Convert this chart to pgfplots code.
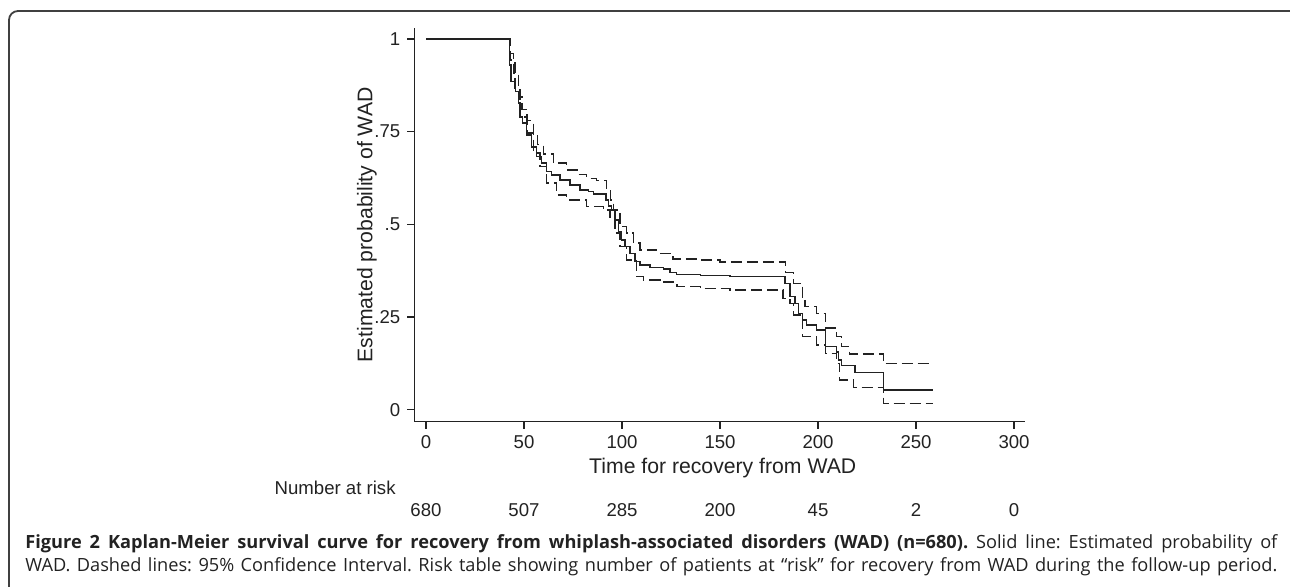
\documentclass[border=0pt]{standalone}
\usepackage{fontspec}
\setmainfont{Liberation Sans}
\newfontfamily\capfont{Open Sans}
\usepackage{pgfplots}
\pgfplotsset{compat=1.18}
\definecolor{ink}{HTML}{222222}

\begin{document}
\frenchspacing
\begin{tikzpicture}[x=0.5pt,y=0.5pt]
\path[use as bounding box] (0,0) rectangle (1290,587);
\draw[line width=0.9pt, black!75, rounded corners=4.5pt] (9,576) rectangle (1300,-30);
\begin{axis}[
  at={(207.15pt,82.65pt)}, anchor=south west,
  scale only axis, width=305.35pt, height=196.85pt,
  xmin=-5.97, xmax=305.6, ymin=-0.0324, ymax=1.0297,
  axis lines*=left,
  axis line style={ink, line width=0.6pt},
  tick align=outside, major tick length=3.5pt,
  tick style={ink, line width=0.6pt},
  xtick={0,50,...,300},
  ytick={0,0.25,0.5,0.75,1},
  yticklabels={0,.25,.5,.75,1},
  /pgf/number format/assume math mode=true,
  ticklabel style={font=\fontsize{9.3}{10}\selectfont, text=ink},
  xlabel={Time for recovery from WAD},
  ylabel={Estimated probability of WAD},
  label style={font=\fontsize{10.6}{12}\selectfont, text=ink},
  xlabel style={at={(axis description cs:0.505,-0.118)}, anchor=center},
  ylabel style={at={(axis description cs:-0.0775,0.5)}, anchor=center, rotate=0},
  clip=false,
]
\addplot[const plot, ink, line width=0.7pt] table {
t s
0 1
42.6 0.93
43.4 0.885
45.6 0.858
47.1 0.827
48 0.79
49.3 0.773
51.4 0.741
53.9 0.709
56.5 0.683
59 0.665
61.6 0.642
64.1 0.633
68.4 0.62
73.5 0.606
78.6 0.593
82.8 0.588
85.4 0.582
91.8 0.566
93 0.55
94.7 0.539
96.4 0.512
98.1 0.48
99.8 0.458
101.5 0.44
104.1 0.422
106.6 0.4
109.2 0.39
114.3 0.384
121.1 0.379
124.5 0.37
127.9 0.365
140 0.362
155 0.36
183.2 0.341
185.7 0.305
188.3 0.287
190 0.26
192.2 0.242
194.2 0.228
199.3 0.215
203.9 0.17
209.5 0.156
210.4 0.134
212.1 0.12
218.9 0.10
233.3 0.053
258.8 0.053
};
\addplot[const plot, ink, line width=0.75pt, dash pattern=on 5.5pt off 2.5pt] table {
t s
0 1
42.9 0.961
44.6 0.907
47.1 0.844
49 0.81
51.4 0.78
54.8 0.741
57 0.715
59.9 0.69
65 0.665
71.8 0.647
77 0.635
82 0.624
87 0.618
92.2 0.59
94 0.565
95.6 0.539
99 0.494
102.4 0.476
105.8 0.45
109.2 0.431
117.7 0.422
126 0.406
140 0.404
150 0.398
183.5 0.37
187.5 0.341
192 0.300
193.4 0.278
199.3 0.26
203.9 0.22
209.5 0.197
212.1 0.17
216 0.15
233.3 0.125
256.8 0.125
};
\addplot[const plot, ink, line width=0.75pt, dash pattern=on 5.5pt off 2.5pt] table {
t s
0 1
42.9 0.943
45.4 0.862
48 0.79
51.4 0.746
54.8 0.692
58.2 0.656
61.6 0.611
66.7 0.579
71.8 0.566
82 0.548
90.5 0.539
93.9 0.52
96.4 0.476
99 0.44
102.4 0.404
107.5 0.359
110.9 0.35
119.4 0.345
128 0.332
140 0.327
155 0.323
182.2 0.30
185.7 0.287
187.5 0.255
192.2 0.197
199.3 0.175
203.9 0.152
209.5 0.125
211 0.08
218 0.06
233.3 0.017
258.8 0.017
};
\foreach \t/\n in {0/680,50/507,100/285,150/200,200/45,250/2,300/0}{
  \edef\tmp{\noexpand\node[font=\noexpand\fontsize{9.3}{10}\noexpand\selectfont, text=ink, anchor=center] at (axis cs:\t,-0.2706) {\n};}\tmp
}
\end{axis}
\node[anchor=east, inner sep=0pt, font=\fontsize{9.3}{10}\selectfont, text=ink] at (396,99) {Number at risk};
\node[anchor=base west, inner sep=0pt, text=ink, font=\capfont\fontsize{9.1}{10}\selectfont] at (25,38) {\makebox[626pt][s]{\textbf{Figure 2 Kaplan-Meier survival curve for recovery from whiplash-associated disorders (WAD) (n=680).} Solid line: Estimated probability of}};
\node[anchor=base west, inner sep=0pt, text=ink, font=\capfont\fontsize{9.1}{10}\selectfont] at (25,15) {\makebox[626pt][s]{WAD. Dashed lines: 95\% Confidence Interval. Risk table showing number of patients at “risk” for recovery from WAD during the follow-up period.}};
\end{tikzpicture}
\end{document}
